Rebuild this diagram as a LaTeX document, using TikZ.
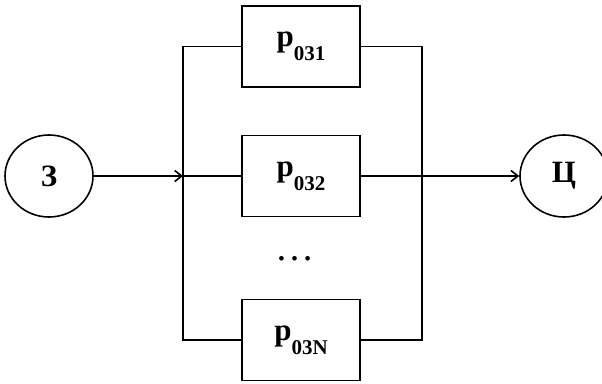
\documentclass[tikz,border=0pt]{standalone}
\usepackage{fontspec}
\setmainfont{Liberation Serif}
\usetikzlibrary{arrows.meta,shapes.geometric}
\newcommand{\psub}[1]{{\fontsize{31}{31}\selectfont\bfseries p\raisebox{-14pt}{\fontsize{21}{21}\selectfont #1}}}
\begin{document}
\begin{tikzpicture}[x=1pt,y=-1pt,
  line width=1.6pt,
  circ/.style={draw, ellipse, minimum width=88pt, minimum height=82pt, inner sep=0pt,
    font=\fontsize{31}{31}\selectfont\bfseries},
  boxnode/.style={draw, rectangle, minimum width=118pt, minimum height=81pt, inner sep=0pt},
  arr/.style={-{Straight Barb[length=7pt,width=11pt]}}]
\useasboundingbox (0,0) rectangle (602,383);
\node[circ] (z) at (49,176) {З};
\node[circ] (c) at (564,176) {Ц};
\node[boxnode] (b1) at (301,46.5) {\psub{031}};
\node[boxnode] (b2) at (301,176) {\psub{032}};
\node[boxnode] (bN) at (301,340) {\psub{03N}};
\node[anchor=base, font=\fontsize{39}{39}\selectfont, inner sep=0pt] (dots) at (295,260) {…};
\coordinate (L1) at (183,46.5);
\coordinate (L2) at (183,176);
\coordinate (LN) at (183,340);
\coordinate (R1) at (422,46.5);
\coordinate (R2) at (422,176);
\coordinate (RN) at (422,340);
\draw (b1.west) -- (L1) -- (LN) -- (bN.west);
\draw (b1.east) -- (R1) -- (RN) -- (bN.east);
\draw[arr] (z) -- (L2);
\draw (L2) -- (b2.west);
\draw (b2.east) -- (R2);
\draw[arr] (R2) -- (c);
\end{tikzpicture}
\end{document}
